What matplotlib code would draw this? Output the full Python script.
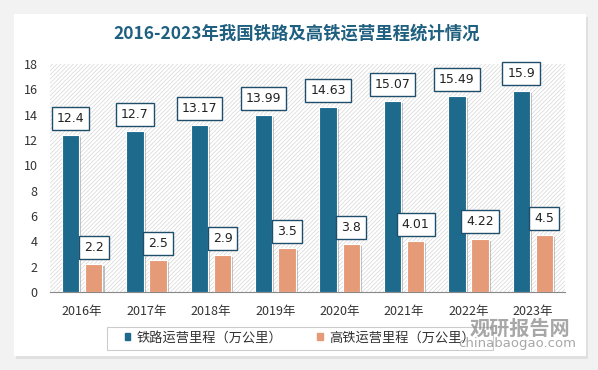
import matplotlib
matplotlib.use("Agg")
import matplotlib.pyplot as plt
import matplotlib.patches as mpatches
import matplotlib.patheffects as pe
import numpy as np

plt.rcParams['font.family'] = ['Noto Sans CJK SC', 'DejaVu Sans']
plt.rcParams['hatch.color'] = '#d6d6d6'
plt.rcParams['hatch.linewidth'] = 0.5

years = ['2016年', '2017年', '2018年', '2019年', '2020年', '2021年', '2022年', '2023年']
rail = [12.4, 12.7, 13.17, 13.99, 14.63, 15.07, 15.49, 15.9]
hsr = [2.2, 2.5, 2.9, 3.5, 3.8, 4.01, 4.22, 4.5]
rail_labels = ['12.4', '12.7', '13.17', '13.99', '14.63', '15.07', '15.49', '15.9']
hsr_labels = ['2.2', '2.5', '2.9', '3.5', '3.8', '4.01', '4.22', '4.5']
series_names = ['铁路运营里程（万公里）', '高铁运营里程（万公里）']
title = '2016-2023年我国铁路及高铁运营里程统计情况'

c_rail = '#1e6a8d'
c_hsr = '#e59a78'
edge_lbl = '#1f4e6b'

fig = plt.figure(figsize=(5.98, 3.70), dpi=100)
fig.patch.set_facecolor('#f2f2f2')
# white card
shadow = mpatches.Rectangle((16/598, 11/370), 572/598, 342/370,
                            transform=fig.transFigure, facecolor='#e0e0e0', edgecolor='none',
                            zorder=-2)
card = mpatches.Rectangle((14/598, 14/370), 572/598, 342/370,
                          transform=fig.transFigure, facecolor='white', edgecolor='none',
                          zorder=-1)
fig.patches.extend([shadow, card])

ax = fig.add_axes([50/598, 1 - 292/370, 515/598, 228/370])
ax.set_zorder(1)
ax.set_xlim(-0.5, 7.5)
ax.set_ylim(0, 18)
ax.set_facecolor('none')
bg = mpatches.Rectangle((0, 0), 1, 1, transform=ax.transAxes, facecolor='white',
                        hatch='////////', edgecolor='#d6d6d6', linewidth=0, zorder=0)
ax.add_patch(bg)

x = np.arange(len(years))
w = 0.27
off = 0.18
shadow_fx = [pe.SimplePatchShadow(offset=(1.5, -1.5), shadow_rgbFace='#999999', alpha=0.6), pe.Normal()]
b1 = ax.bar(x - off, rail, w, color=c_rail, edgecolor='white', linewidth=0.8, zorder=3,
            label=series_names[0])
b2 = ax.bar(x + off, hsr, w, color=c_hsr, edgecolor='white', linewidth=0.8, zorder=3,
            label=series_names[1])
for b in list(b1) + list(b2):
    b.set_path_effects(shadow_fx)

bbox = dict(boxstyle='square,pad=0.4', facecolor='white', edgecolor=edge_lbl, linewidth=1.0)
for xi, v, s in zip(x, rail, rail_labels):
    ax.annotate(s, (xi - off, v), xytext=(0, 12), textcoords='offset points', ha='center',
                va='center', fontsize=9, color='#222222', bbox=bbox, zorder=5,
                family=['DejaVu Sans'])
for xi, v, s in zip(x, hsr, hsr_labels):
    ax.annotate(s, (xi + off, v), xytext=(0, 12), textcoords='offset points', ha='center',
                va='center', fontsize=9, color='#222222', bbox=bbox, zorder=5,
                family=['DejaVu Sans'])

ax.set_yticks(np.arange(0, 19, 2))
ax.set_xticks(x)
ax.set_xticklabels(years, fontsize=9, color='#333333')
ax.tick_params(axis='y', labelsize=9, colors='#333333', length=0, pad=9)
ax.tick_params(axis='x', length=0, pad=9)
for s in ['top', 'right', 'left']:
    ax.spines[s].set_visible(False)
ax.spines['bottom'].set_color('#888888')
ax.spines['bottom'].set_linewidth(0.8)

fig.text(297/598, 1 - 34/370, title, ha='center', va='center', fontsize=12.5, fontweight='bold',
         color='#1f5f7f')

# legend box drawn separately, legend entries without frame
legbox = mpatches.Rectangle((107/598, 1 - 350/370), 386/598, 23/370, transform=fig.transFigure,
                            facecolor='white', edgecolor='#cccccc', linewidth=0.8, zorder=2)
fig.patches.append(legbox)
h1 = mpatches.Patch(color=c_rail)
h2 = mpatches.Patch(color=c_hsr)
leg = fig.legend([h1, h2], series_names, loc='center', bbox_to_anchor=(300/598, 1 - 338/370),
                 ncol=2, frameon=False, fontsize=9.5, handlelength=0.45, handleheight=0.45,
                 columnspacing=2.6, handletextpad=0.5, borderpad=0.2)
leg.set_zorder(3)
for t in leg.get_texts():
    t.set_color('#333333')

fig.text(520/598, 1 - 328/370, '观研报告网', ha='center', va='center', fontsize=14.5,
         fontweight='bold', color='#8a8a8a', alpha=0.75, zorder=10)
fig.text(517/598, 1 - 344/370, 'chinabaogao.com', ha='center', va='center', fontsize=9.5,
         color='#8a8a8a', alpha=0.75, family=['DejaVu Sans'], zorder=10)

fig.savefig('out.png', dpi=100, facecolor=fig.get_facecolor())
